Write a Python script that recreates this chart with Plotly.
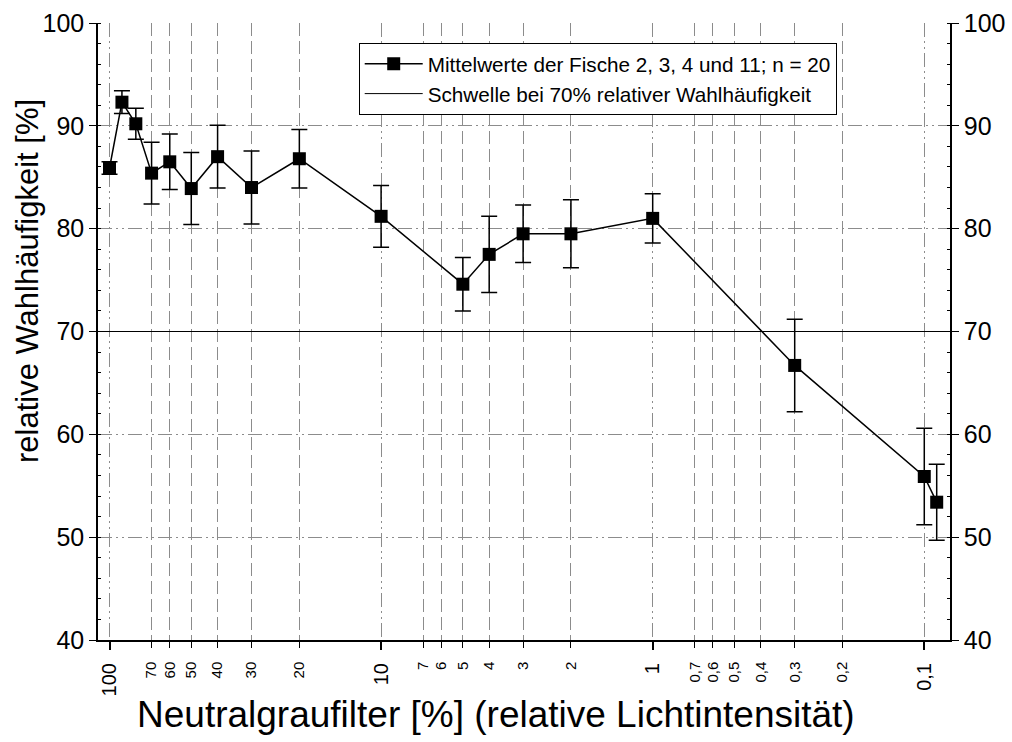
import math
import plotly.graph_objects as go

# ---- data ----
filter_pct = [100, 90, 80, 70, 60, 50, 40, 30, 20, 10, 5, 4, 3, 2, 1, 0.3, 0.1, 0.09]
mean_choice = [85.9, 92.3, 90.2, 85.4, 86.5, 83.9, 87.0, 84.0, 86.8, 81.2, 74.6, 77.5,
               79.5, 79.5, 81.0, 66.7, 55.9, 53.4]
err_choice = [0.6, 1.1, 1.5, 3.0, 2.7, 3.5, 3.05, 3.55, 2.85, 3.0, 2.6, 3.7, 2.8, 3.3,
              2.4, 4.5, 4.7, 3.7]
threshold = 70

minor_tickvals = [70, 60, 50, 40, 30, 20, 7, 6, 5, 4, 3, 2, 0.7, 0.6, 0.5, 0.4, 0.3, 0.2]
minor_ticktext = ["70", "60", "50", "40", "30", "20", "7", "6", "5", "4", "3", "2",
                  "0,7", "0,6", "0,5", "0,4", "0,3", "0,2"]
decade_tickvals = [100, 10, 1, 0.1]
decade_ticktext = ["100", "10", "1", "0,1"]
y_tickvals = [40, 50, 60, 70, 80, 90, 100]

series_name = "Mittelwerte der Fische 2, 3, 4 und 11; n = 20"
threshold_name = "Schwelle bei 70% relativer Wahlhäufigkeit"
x_title = "Neutralgraufilter [%] (relative Lichtintensität)"
y_title = "relative Wahlhäufigkeit [%]"

# ---- styling ----
FONT = "Liberation Sans, Arial, sans-serif"
x_log_range = [2.0424, -1.0947]
y_range = [40, 100]
grid_color = "#8c8c8c"
dashdot = "14px,4px,2px,4px,2px,4px"

fig = go.Figure()

fig.add_trace(go.Scatter(
    x=[10 ** x_log_range[0], 10 ** x_log_range[1]], y=[threshold, threshold],
    mode="lines", line=dict(color="black", width=1),
    name=threshold_name, xaxis="x2", yaxis="y2", cliponaxis=True,
))

fig.add_trace(go.Scatter(
    x=filter_pct, y=mean_choice, mode="lines+markers",
    name=series_name,
    line=dict(color="black", width=1.5),
    marker=dict(symbol="square", size=13, color="black"),
    error_y=dict(type="data", array=err_choice, visible=True,
                 color="black", thickness=1.5, width=8),
))

fig.update_layout(
    width=1012, height=742,
    margin=dict(l=98, r=62, t=23, b=102, autoexpand=False),
    plot_bgcolor="white", paper_bgcolor="white",
    font=dict(family=FONT, color="black"),
    showlegend=True,
    legend=dict(
        x=0.306, y=0.968, xanchor="left", yanchor="top",
        bgcolor="white", bordercolor="black", borderwidth=1,
        font=dict(size=20.7, family=FONT),
        traceorder="reversed", itemwidth=58, tracegroupgap=0,
    ),
    xaxis=dict(
        type="log", range=x_log_range, automargin=False,
        tickmode="array", tickvals=minor_tickvals, ticktext=minor_ticktext,
        tickangle=-90, tickfont=dict(size=15), ticklabelstandoff=8,
        ticks="outside", ticklen=6, tickcolor="black", tickwidth=1,
        showline=True, linecolor="black", linewidth=1.5,
        showgrid=True, gridcolor=grid_color, gridwidth=1, griddash="13px,5px",
        zeroline=False,
    ),
    xaxis2=dict(
        type="log", range=x_log_range, overlaying="x", side="bottom", anchor="y2",
        automargin=False,
        tickmode="array", tickvals=decade_tickvals, ticktext=decade_ticktext,
        tickangle=-90, tickfont=dict(size=20), ticklabelstandoff=5,
        ticks="outside", ticklen=9, tickcolor="black", tickwidth=1.5,
        showline=False,
        showgrid=True, gridcolor=grid_color, gridwidth=1, griddash=dashdot,
        zeroline=False,
    ),
    yaxis=dict(
        range=y_range, tickmode="array", tickvals=y_tickvals, automargin=False,
        tickfont=dict(size=25),
        ticks="outside", ticklen=7, tickcolor="black", tickwidth=1,
        showline=True, linecolor="black", linewidth=1.5,
        showgrid=True, gridcolor=grid_color, gridwidth=1, griddash=dashdot,
        zeroline=False,
        minor=dict(ticks="inside", ticklen=3, dtick=2, tickcolor="black", showgrid=False),
    ),
    yaxis2=dict(
        range=y_range, overlaying="y", side="right", anchor="x", automargin=False,
        tickmode="array", tickvals=y_tickvals,
        tickfont=dict(size=25),
        ticks="outside", ticklen=7, tickcolor="black", tickwidth=1,
        showline=True, linecolor="black", linewidth=1.5,
        showgrid=False, zeroline=False,
        minor=dict(ticks="inside", ticklen=3, dtick=2, tickcolor="black"),
    ),
    annotations=[
        dict(text=x_title, xref="paper", yref="paper", x=0.467, y=-0.12,
             xanchor="center", yanchor="middle", showarrow=False,
             font=dict(size=37, family=FONT)),
        dict(text=y_title, xref="paper", yref="paper", x=-0.082, y=0.582,
             xanchor="center", yanchor="middle", showarrow=False, textangle=-90,
             font=dict(size=31, family=FONT)),
    ],
)

fig.write_html("out.html")
